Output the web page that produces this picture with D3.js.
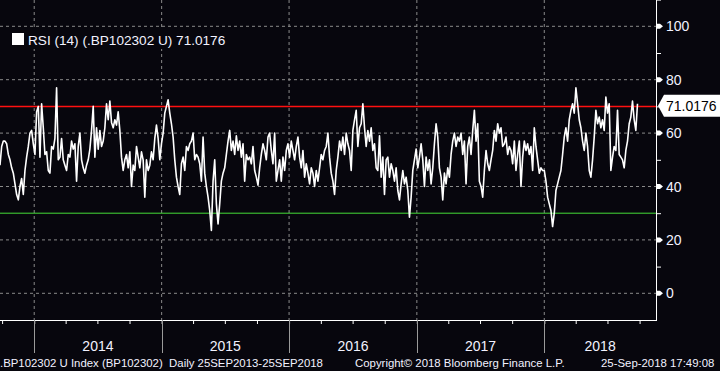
<!DOCTYPE html>
<html>
<head>
<meta charset="utf-8">
<script src="https://cdn.jsdelivr.net/npm/d3@7"></script>
<style>
  html, body { margin: 0; padding: 0; background: #07060d; }
  svg { display: block; }
  text { font-family: 'Liberation Sans', Arial, sans-serif; }
</style>
</head>
<body>
<svg id="chart" width="720" height="371"></svg>
<script>
// RSI (14) of .BP102302 U, daily (left to right)
let rsi = [
    48, 55, 57, 57, 56, 52, 50, 47, 45, 41, 37, 35, 40, 43, 37, 46, 51, 55, 60, 61,
    56, 52, 68, 70, 51, 71, 62, 52, 53, 46, 45, 55, 54, 58, 77, 50, 51, 58, 50, 48,
    46, 52, 51, 57, 54, 56, 42, 55, 60, 50, 47, 45, 48, 50, 54, 61, 70, 51, 62, 54,
    61, 55, 57, 62, 71, 65, 72, 64, 62, 65, 63, 68, 61, 51, 46, 50, 52, 47, 53, 40,
    48, 46, 55, 51, 47, 53, 50, 36, 50, 46, 48, 53, 50, 58, 63, 58,
    50, 56, 60, 67.5, 70, 72.5, 67.5, 63.5, 58.5, 50, 43.5, 40, 37, 48.5, 51, 46, 55, 53.5, 56, 57,
    60, 50, 52, 51, 48.5, 42, 58.5, 45, 40, 36, 31, 23.5, 42, 50, 33.5, 26, 33.5, 42, 45, 47,
    52, 57, 61, 53.5, 57, 52, 59, 53.5, 57, 51, 56, 42, 52, 50, 51, 48.5, 55, 46, 43.5, 40.5,
    47, 52, 56, 53.5, 50, 58.5, 60, 53.5, 48.5, 60, 42, 46, 50, 42, 51, 46, 53.5, 56, 51, 57,
    53.5, 50, 55, 58.5, 51, 47, 53.5, 43.5, 48.5, 45, 41, 47, 45, 40, 46, 42,
    47, 52, 50, 53.5, 55, 60, 51, 45, 42, 37, 46, 51, 57, 53.5, 58.5, 52, 60, 56, 53.5, 46,
    61, 65, 68.5, 55, 62, 63.5, 71, 62, 55, 61, 57, 62, 53.5, 56, 47, 46, 59, 43.5, 51, 37,
    50, 51, 43.5, 48.5, 46, 42, 47, 38.5, 35, 41, 46, 41, 43.5, 38.5, 28.5, 36, 46, 50, 54, 47,
    51, 56, 50, 40, 51, 46, 50, 41, 47, 56, 63.5, 58.5, 47, 43.5, 35, 45, 41, 47, 43.5, 52,
    57, 60, 55, 58.5, 57, 60, 52, 57, 41, 55, 58.5, 52, 61, 68.5, 57, 63.5,
    42, 40, 36, 46, 53.5, 48.5, 46, 50, 53.5, 61, 57, 63.5, 60, 62, 55, 56, 58.5, 52, 55, 53.5,
    48.5, 57, 46, 52, 57, 40, 51, 57, 53.5, 56, 52, 55, 46, 62, 55, 50, 45, 47, 46, 46,
    42, 36, 33.5, 31, 25, 30, 38.5, 41, 43.5, 46, 52, 58.5, 62, 57, 65, 68.5, 71, 67.5, 77, 71,
    65, 62, 57, 53.5, 60, 55, 46, 43.5, 50, 58.5, 68.5, 63.5, 66, 62, 65, 61, 73.5, 67.5, 71, 46,
    51, 55, 53.5, 68.5, 52, 51, 50, 47, 53.5, 57, 63.5, 66, 72, 65, 61, 71.0176
]

let startDate = new Date(2013, 8, 25),
    endDate = new Date(2018, 8, 25),
    axisEndDate = new Date(2018, 10, 17)
let years = [2014, 2015, 2016, 2017, 2018]
let yTicks = [0, 20, 40, 60, 80, 100]
let yMinorTicks = [10, 30, 50, 70, 90, 110]
let overbought = 70, oversold = 30
let lastValue = 71.0176
let legendText = 'RSI (14) (.BP102302 U) 71.0176'
let footLeft = '.BP102302 U Index (BP102302)  Daily 25SEP2013-25SEP2018',
    footMid = 'Copyright\u00A9 2018 Bloomberg Finance L.P.',
    footRight = '25-Sep-2018 17:49:08'

function main() {
    let svg = d3.select('#chart'),
        plotRight = 656,
        plotBottom = 320

    let x = d3.scaleTime().domain([startDate, axisEndDate]).range([0, plotRight]),
        y = d3.scaleLinear().domain([0, 100]).range([293.3, 26.3])

    let step = (endDate - startDate) / (rsi.length - 1)
    let data = rsi.map((v, i) => ({date: new Date(+startDate + i * step), value: v}))

    svg.append('rect')
        .attr('width', 720).attr('height', 371)
        .attr('fill', '#07060d')

    // dashed grid
    svg.append('g')
        .selectAll('line')
        .data(yTicks)
        .enter()
        .append('line')
        .attr('x1', 0).attr('x2', plotRight)
        .attr('y1', d => y(d)).attr('y2', d => y(d))
        .attr('stroke', '#8a8a8a')
        .attr('stroke-dasharray', '3,3')

    svg.append('g')
        .selectAll('line')
        .data(years)
        .enter()
        .append('line')
        .attr('x1', d => x(new Date(d, 0, 1))).attr('x2', d => x(new Date(d, 0, 1)))
        .attr('y1', 0).attr('y2', plotBottom)
        .attr('stroke', '#8a8a8a')
        .attr('stroke-dasharray', '3,3')

    // reference levels
    svg.append('line')
        .attr('x1', 0).attr('x2', plotRight)
        .attr('y1', y(overbought)).attr('y2', y(overbought))
        .attr('stroke', '#ff1010')
        .attr('stroke-width', 1.5)

    svg.append('line')
        .attr('x1', 0).attr('x2', plotRight)
        .attr('y1', y(oversold)).attr('y2', y(oversold))
        .attr('stroke', '#44dd38')
        .attr('stroke-width', 1)

    // rsi line
    let line = d3.line()
        .x(d => x(d.date))
        .y(d => y(d.value))

    svg.append('path')
        .datum(data)
        .attr('d', line)
        .attr('fill', 'none')
        .attr('stroke', '#ffffff')
        .attr('stroke-width', 1.6)
        .attr('stroke-linejoin', 'round')

    // legend
    svg.append('rect')
        .attr('x', 8).attr('y', 28).attr('width', 224).attr('height', 21)
        .attr('fill', '#07060d')
    svg.append('rect')
        .attr('x', 12).attr('y', 33).attr('width', 12).attr('height', 12)
        .attr('fill', '#ffffff')
    svg.append('text')
        .attr('x', 28).attr('y', 44.5)
        .attr('fill', '#f2f2ff')
        .style('font-size', '13.6px')
        .text(legendText)

    // right axis
    svg.append('g')
        .attr('transform', 'translate(' + plotRight + ',0)')
        .call(d3.axisRight(y).tickValues(yMinorTicks).tickSize(5).tickFormat(''))
        .call(g => g.select('.domain').remove())
        .selectAll('line').attr('stroke', '#ffffff')

    svg.append('line')
        .attr('x1', plotRight + 0.5).attr('x2', plotRight + 0.5)
        .attr('y1', 0).attr('y2', plotBottom + 0.5)
        .attr('stroke', '#ffffff')

    let yt = svg.append('g')
        .selectAll('g')
        .data(yTicks)
        .enter()
        .append('g')
        .attr('transform', d => 'translate(' + plotRight + ',' + y(d) + ')')
    yt.append('path')
        .attr('d', 'M0,-2.5L4,-2.5L7,0L4,2.5L0,2.5Z')
        .attr('fill', '#ffffff')
    yt.append('text')
        .attr('x', 10).attr('dy', '0.36em')
        .attr('fill', '#f2f2ff')
        .style('font-size', '14px')
        .text(d => d)

    // last value tag
    let ly = y(lastValue) + 2
    svg.append('path')
        .attr('d', 'M' + (plotRight + 2) + ',' + ly
            + 'L' + (plotRight + 8) + ',' + (ly - 11)
            + 'L720,' + (ly - 11) + 'L720,' + (ly + 11)
            + 'L' + (plotRight + 8) + ',' + (ly + 11) + 'Z')
        .attr('fill', '#ffffff')
    svg.append('text')
        .attr('x', plotRight + 10).attr('y', ly).attr('dy', '0.36em')
        .attr('fill', '#000000')
        .style('font-size', '14px')
        .text(d3.format('.4f')(lastValue))

    // bottom axis
    svg.append('g')
        .attr('transform', 'translate(0,' + plotBottom + ')')
        .call(d3.axisBottom(x).ticks(d3.timeMonth.every(3)).tickSize(4).tickFormat(''))
        .call(g => g.select('.domain').remove())
        .selectAll('line').attr('stroke', '#ffffff')

    svg.append('line')
        .attr('x1', 0).attr('x2', plotRight + 1)
        .attr('y1', plotBottom + 0.5).attr('y2', plotBottom + 0.5)
        .attr('stroke', '#ffffff')

    svg.append('g')
        .selectAll('line')
        .data(years)
        .enter()
        .append('line')
        .attr('x1', d => Math.round(x(new Date(d, 0, 1))) + 0.5)
        .attr('x2', d => Math.round(x(new Date(d, 0, 1))) + 0.5)
        .attr('y1', plotBottom).attr('y2', 353)
        .attr('stroke', '#9a9a9a')

    svg.append('g')
        .selectAll('text')
        .data(years)
        .enter()
        .append('text')
        .attr('x', d => {
            let a = x(new Date(d, 0, 1)),
                b = Math.min(x(new Date(d + 1, 0, 1)), plotRight)
            return (a + b) / 2
        })
        .attr('y', 351)
        .attr('text-anchor', 'middle')
        .attr('fill', '#f2f2ff')
        .style('font-size', '14px')
        .text(d => d)

    // footer
    let foot = [[0, footLeft], [355, footMid], [601, footRight]]
    svg.append('g')
        .selectAll('text')
        .data(foot)
        .enter()
        .append('text')
        .attr('x', d => d[0]).attr('y', 367)
        .attr('fill', '#f2f2ff')
        .style('font-size', '11.4px')
        .style('white-space', 'pre')
        .text(d => d[1])
}

main()
</script>
</body>
</html>
